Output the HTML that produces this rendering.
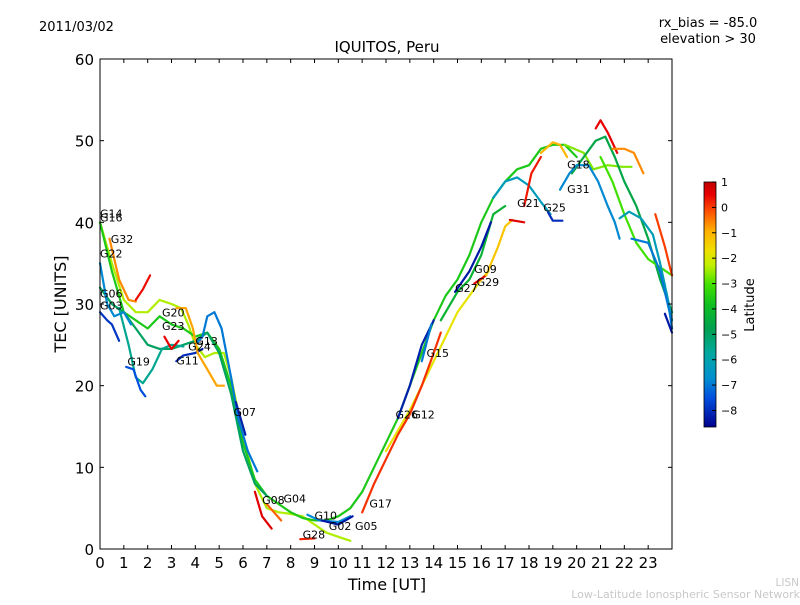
<!DOCTYPE html>
<html><head><meta charset="utf-8"><style>
body{margin:0;background:#fff;width:800px;height:600px;overflow:hidden}
svg text{font-family:"DejaVu Sans","Liberation Sans",sans-serif}
</style></head><body>
<svg id="c" width="800" height="600" xmlns="http://www.w3.org/2000/svg">
<defs><linearGradient id="cb" x1="0" y1="1" x2="0" y2="0">
<stop offset="0" stop-color="#00008c"/><stop offset="0.12" stop-color="#0050e0"/><stop offset="0.2" stop-color="#0090d0"/><stop offset="0.3" stop-color="#00a8a0"/><stop offset="0.4" stop-color="#00a050"/><stop offset="0.5" stop-color="#10c020"/><stop offset="0.58" stop-color="#40e000"/><stop offset="0.66" stop-color="#c0f000"/><stop offset="0.72" stop-color="#f0e000"/><stop offset="0.8" stop-color="#ffb000"/><stop offset="0.88" stop-color="#ff5000"/><stop offset="0.95" stop-color="#e80000"/><stop offset="1" stop-color="#c00000"/>
</linearGradient></defs>
<text x="39" y="31" font-size="13">2011/03/02</text>
<text x="708" y="27" font-size="13" text-anchor="middle">rx_bias = -85.0</text>
<text x="708" y="43" font-size="13" text-anchor="middle">elevation &gt; 30</text>
<text x="387" y="52" font-size="15" text-anchor="middle">IQUITOS, Peru</text>
<text x="387" y="590" font-size="16" text-anchor="middle">Time [UT]</text>
<text transform="translate(66,304) rotate(-90)" font-size="16" text-anchor="middle">TEC [UNITS]</text>
<text x="799" y="586" font-size="10.5" fill="#c8c8c8" text-anchor="end">LISN</text>
<text x="800" y="598" font-size="11" fill="#c8c8c8" text-anchor="end">Low-Latitude Ionospheric Sensor Network</text>
<g id="plot"></g>
<rect x="100" y="59" width="572" height="490" fill="none" stroke="#000" stroke-width="1"/>
<g id="axes"></g>
<rect x="704" y="182" width="12" height="245" fill="url(#cb)" stroke="#000" stroke-width="0.8"/>
<g id="cbt"></g>
<text transform="translate(754,305) rotate(-90)" font-size="13" text-anchor="middle">Latitude</text>
</svg>
<script>
const xTicks=[0,1,2,3,4,5,6,7,8,9,10,11,12,13,14,15,16,17,18,19,20,21,22,23];
const yTicks=[0,10,20,30,40,50,60];
const cbTicks=[1,0,-1,-2,-3,-4,-5,-6,-7,-8];
const trackLats=[-2.3,-3.6,-5,-5.6,-6.8,-7.9,-7.5,-0.6,0.4,-8,-7,-8.2,0.5,-0.8,0.6,-0.3,-6.8,-8.3,0.2,-1.7,-8.2,-7,-4.2,-8.3,0.5,-1.2,0.6,-6.3,-8,0.3,-1,-2.6,-4.6,-6.8,0.5,-0.6,-3,-6.2,-7,0,-8.3,0.1];
const trackPts=[
[[0,40],[0.5,35],[1,30.5],[1.5,29],[2,29],[2.5,30.5],[3,30],[3.4,29.5],[3.7,27.5],[4,25],[4.4,23.5],[4.8,24],[5.2,24],[5.5,21],[6,14],[6.5,8],[7,5],[7.5,4.5],[8,4.3],[8.5,4],[9,3],[9.5,2],[10,1.5],[10.5,1]],
[[0,40],[0.5,34],[1,29],[1.5,28],[2,27],[2.5,28.5],[3,27.5],[3.5,27],[4,26],[4.5,26.5],[5,24.5],[5.5,20],[6,13],[6.5,8.5],[7,6.5],[7.5,5.5],[8,4.5],[8.5,3.8],[9,3.5],[9.5,3.5],[10,4],[10.5,5],[11,7],[11.5,10],[12,13],[12.5,16],[13,20],[13.5,24],[14,28],[14.5,31],[15,33],[15.5,36],[16,40],[16.5,43],[17,45],[17.5,46.5],[18,47],[18.5,49],[19,49.5],[19.5,49.5],[20,48]],
[[0,32],[0.5,30],[1,29],[1.5,27],[2,25],[2.5,24.5],[3,24.5],[3.5,25],[4,25.5],[4.5,26.5],[5,24],[5.5,19],[6,12],[6.5,8],[7,6.5]],
[[0.8,29.5],[1.2,25],[1.5,21],[1.8,20.3],[2.2,22],[2.6,24.5],[3,25],[3.5,24.8]],
[[0,35],[0.3,30],[0.6,28.5],[1,29],[1.3,27.5]],
[[0,29],[0.3,28],[0.5,27.5],[0.8,25.5]],
[[1.1,22.3],[1.4,22],[1.7,19.5],[1.9,18.7]],
[[0.4,38],[0.8,33],[1.2,30.5],[1.5,30.3]],
[[1.5,30.5],[1.8,31.8],[2.1,33.5]],
[[3.2,23],[3.5,23.7],[4,24],[4.3,24.5]],
[[4,25],[4.3,26],[4.5,28.5],[4.8,29],[5.1,27],[5.5,21],[5.8,16],[6.2,12],[6.6,9.5]],
[[5.7,18],[6.1,14]],
[[2.7,26],[3,24.5],[3.3,25.5]],
[[3.2,29.5],[3.6,29.5],[3.9,27],[4.1,24],[4.5,22],[4.9,20],[5.2,20]],
[[6.5,7],[6.8,4],[7.2,2.5]],
[[7,5.5],[7.6,3.5]],
[[8.7,4.2],[9.2,3.5],[10,3.3],[10.5,4]],
[[9.3,3.5],[10,3],[10.6,4]],
[[8.4,1.2],[9,1.3]],
[[12,12],[13,17],[13.5,20],[14,23],[14.5,26],[15,29],[15.5,31],[16,33],[16.3,34]],
[[12.5,16],[13,20],[13.5,25],[14,28]],
[[13.5,23],[13.9,27.5]],
[[14.3,28],[15,31.5],[15.5,33],[16,36],[16.5,41],[17,42]],
[[14.9,31.5],[15.5,34],[16,37],[16.4,40]],
[[15.7,32.5],[16.2,33.5]],
[[16.2,33.5],[16.7,37],[17,39.5],[17.3,40.3]],
[[17.2,40.3],[17.8,40]],
[[16.5,43],[17,45],[17.5,45.5],[18,44.5],[18.5,42.5],[18.9,41]],
[[18.8,41.2],[19,40.2],[19.4,40.2]],
[[17.8,42],[18.1,46],[18.5,48]],
[[18.5,48.5],[19,49.8],[19.3,49.5],[19.6,48]],
[[19.5,49.5],[20.3,48.5],[20.7,46.5],[21.3,47],[21.9,46.8],[22.3,46.8]],
[[19.8,46],[20.3,48],[20.8,50],[21.2,50.5],[21.6,48],[22,45],[22.5,42],[23,38],[23.5,33],[24,29]],
[[19.3,44],[19.7,46],[20,47],[20.5,47],[20.9,45],[21.3,42],[21.6,40],[21.8,38]],
[[20.8,51.5],[21,52.5],[21.3,51],[21.7,48.5]],
[[21.5,49],[22,49],[22.4,48.5],[22.8,46]],
[[21,48],[21.5,45],[22,41],[22.5,37.5],[23,35.5],[23.5,34.5],[24,33.5]],
[[21.8,40.5],[22.2,41.3],[22.7,40.5],[23.2,38.5],[23.5,35],[23.8,31],[24,28]],
[[22.3,38],[23,37.5],[23.5,34],[23.9,29],[24,27]],
[[23.3,41],[23.7,37],[24,33.5]],
[[23.7,28.8],[24,26.5]],
[[11,4.5],[11.5,8],[12,11],[12.5,14],[13,16.5],[13.5,20],[14,24],[14.3,26.5]]];
const satNames=["G14","G16","G32","G22","G06","G03","G19","G20","G23","G13","G24","G11","G07","G08","G04","G10","G28","G02","G05","G17","G26","G12","G15","G27","G09","G29","G21","G25","G18","G31"];
const satPos=[[0,40.6],[0,40.1],[0.45,37.5],[0,35.7],[0,30.8],[0,29.3],[1.15,22.5],[2.6,28.5],[2.6,26.8],[4,25],[3.7,24.3],[3.2,22.6],[5.6,16.3],[6.8,5.5],[7.7,5.7],[9,3.6],[8.5,1.3],[9.6,2.3],[10.7,2.3],[11.3,5.1],[12.4,16],[13.1,16],[13.7,23.5],[14.9,31.5],[15.7,33.8],[15.8,32.2],[17.5,41.9],[18.6,41.3],[19.6,46.6],[19.6,43.6]];
const NS="http://www.w3.org/2000/svg";
const X=t=>100+t*572/24, Y=v=>549-v*490/60, CB=l=>182+(1-l)*245/9.65;
const stops=[[-8.65,[0,0,140]],[-7.5,[0,80,224]],[-6.7,[0,144,208]],[-5.8,[0,168,160]],[-4.8,[0,160,80]],[-3.8,[16,192,32]],[-3,[64,224,0]],[-2.2,[192,240,0]],[-1.6,[240,224,0]],[-0.9,[255,176,0]],[-0.15,[255,80,0]],[0.5,[232,0,0]],[1,[192,0,0]]];
function col(l){for(let i=1;i<stops.length;i++){if(l<=stops[i][0]){const a=stops[i-1],b=stops[i],f=(l-a[0])/(b[0]-a[0]);return 'rgb('+a[1].map((c,k)=>Math.round(c+(b[1][k]-c)*f)).join(',')+')';}}return 'rgb(192,0,0)';}
function mk(tag,at,par){const e=document.createElementNS(NS,tag);for(const k in at)e.setAttribute(k,at[k]);par.appendChild(e);return e;}
const plot=document.getElementById('plot'), axes=document.getElementById('axes'), cbt=document.getElementById('cbt');
trackPts.forEach((pts,i)=>{const p=mk('polyline',{points:pts.map(q=>X(q[0]).toFixed(1)+','+Y(q[1]).toFixed(1)).join(' '),fill:'none',stroke:col(trackLats[i]),'stroke-width':2.2,'stroke-linejoin':'round','stroke-linecap':'round'},plot);

});
satNames.forEach((n,i)=>{const t=mk('text',{x:X(satPos[i][0]),y:Y(satPos[i][1]),'font-size':11},plot);t.textContent=n;

});
xTicks.forEach(t=>{mk('line',{x1:X(t),x2:X(t),y1:549,y2:545,stroke:'#000'},axes);mk('line',{x1:X(t),x2:X(t),y1:59,y2:63,stroke:'#000'},axes);
const e=mk('text',{x:X(t),y:568,'font-size':15,'text-anchor':'middle'},axes);e.textContent=t;

});
yTicks.forEach(v=>{mk('line',{x1:100,x2:104,y1:Y(v),y2:Y(v),stroke:'#000'},axes);mk('line',{x1:668,x2:672,y1:Y(v),y2:Y(v),stroke:'#000'},axes);
const e=mk('text',{x:94,y:Y(v)+6,'font-size':15,'text-anchor':'end'},axes);e.textContent=v;

});
cbTicks.forEach(l=>{mk('line',{x1:712,x2:716,y1:CB(l),y2:CB(l),stroke:'#000'},cbt);
const e=mk('text',{x:721,y:CB(l)+4,'font-size':11},cbt);e.textContent=(l<0?'\u2212'+(-l):l);

});
</script>
</body></html>
